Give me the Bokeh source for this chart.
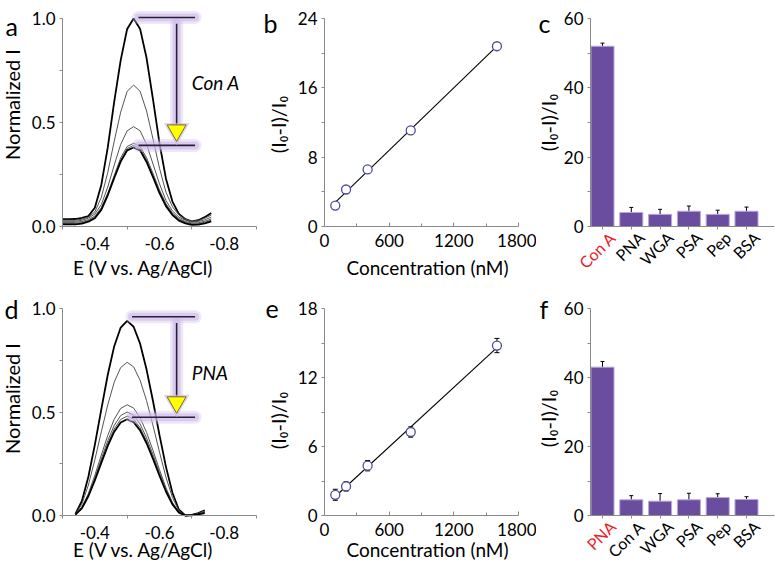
import numpy as np
from bokeh.plotting import figure
from bokeh.models import (Range1d, FixedTicker, PrintfTickFormatter, LinearAxis, Label,
                          LabelSet, ColumnDataSource, Whisker, TeeHead)
from bokeh.layouts import row, column
from bokeh.embed import file_html
from bokeh.resources import INLINE
from bokeh.core.properties import value

FONT = "Lato"

# ---------------- data ----------------
# panel a: DPV curves, Con A
E_a = [-0.30, -0.32, -0.34, -0.36, -0.38, -0.40, -0.42, -0.44, -0.46, -0.48, -0.50, -0.52,
       -0.54, -0.56, -0.58, -0.60, -0.62, -0.64, -0.66, -0.68, -0.70, -0.72, -0.74, -0.76]
a_c1 = [0.035, 0.035, 0.036, 0.042, 0.05, 0.09, 0.20, 0.38, 0.60, 0.80, 0.95, 1.00,
        0.95, 0.81, 0.61, 0.40, 0.23, 0.12, 0.06, 0.035, 0.025, 0.03, 0.045, 0.065]
a_c2 = [0.03, 0.03, 0.03, 0.035, 0.045, 0.07, 0.14, 0.26, 0.41, 0.55, 0.65, 0.68,
        0.65, 0.555, 0.42, 0.28, 0.165, 0.095, 0.055, 0.035, 0.025, 0.028, 0.04, 0.055]
a_c3 = [0.025, 0.025, 0.025, 0.03, 0.04, 0.06, 0.105, 0.19, 0.295, 0.395, 0.46, 0.48,
        0.46, 0.395, 0.30, 0.205, 0.125, 0.075, 0.045, 0.03, 0.022, 0.024, 0.032, 0.045]
a_c4 = [0.02, 0.02, 0.02, 0.024, 0.033, 0.05, 0.09, 0.16, 0.245, 0.33, 0.385, 0.40,
        0.385, 0.33, 0.255, 0.175, 0.11, 0.065, 0.038, 0.024, 0.017, 0.018, 0.025, 0.036]
a_c5 = [0.015, 0.015, 0.015, 0.019, 0.028, 0.045, 0.085, 0.155, 0.24, 0.32, 0.375, 0.39,
        0.375, 0.32, 0.245, 0.168, 0.104, 0.06, 0.033, 0.02, 0.013, 0.014, 0.02, 0.03]
a_c6 = [0.01, 0.01, 0.01, 0.014, 0.023, 0.04, 0.08, 0.15, 0.233, 0.312, 0.366, 0.38,
        0.366, 0.31, 0.237, 0.16, 0.098, 0.055, 0.028, 0.015, 0.008, 0.009, 0.015, 0.025]

# panel d: DPV curves, PNA
E_d = [-0.34, -0.36, -0.38, -0.40, -0.42, -0.44, -0.46, -0.48, -0.50, -0.52, -0.54,
       -0.56, -0.58, -0.60, -0.62, -0.64, -0.66, -0.68, -0.70, -0.72, -0.74]
d_c1 = [0.008, 0.07, 0.187, 0.341, 0.513, 0.68, 0.818, 0.908, 0.94, 0.912, 0.83,
        0.705, 0.552, 0.388, 0.235, 0.11, 0.028, 0.0, 0.003, 0.012, 0.025]
d_c2 = [0.006, 0.055, 0.147, 0.269, 0.404, 0.535, 0.644, 0.715, 0.74, 0.718, 0.653,
        0.555, 0.434, 0.306, 0.185, 0.087, 0.022, 0.0, 0.002, 0.01, 0.022]
d_c3 = [0.004, 0.04, 0.106, 0.194, 0.292, 0.387, 0.465, 0.517, 0.535, 0.519, 0.472,
        0.401, 0.314, 0.221, 0.134, 0.063, 0.016, 0.0, 0.002, 0.009, 0.019]
d_c4 = [0.004, 0.038, 0.10, 0.182, 0.273, 0.362, 0.435, 0.483, 0.50, 0.485, 0.442,
        0.375, 0.294, 0.207, 0.125, 0.059, 0.015, 0.0, 0.002, 0.008, 0.017]
d_c5 = [0.004, 0.036, 0.096, 0.174, 0.262, 0.347, 0.418, 0.464, 0.48, 0.466, 0.424,
        0.36, 0.282, 0.198, 0.12, 0.056, 0.014, 0.0, 0.001, 0.007, 0.015]
d_c6 = [0.004, 0.035, 0.093, 0.169, 0.254, 0.336, 0.405, 0.449, 0.465, 0.451, 0.411,
        0.349, 0.273, 0.192, 0.116, 0.054, 0.014, 0.0, 0.001, 0.006, 0.012]

# panels b / e: calibration
conc = [100, 200, 400, 800, 1600]
b_val = [2.42, 4.27, 6.58, 11.08, 20.8]
b_err = [0.3, 0.3, 0.3, 0.4, 0.3]
e_val = [1.8, 2.53, 4.33, 7.26, 14.78]
e_err = [0.48, 0.4, 0.45, 0.45, 0.62]

# panels c / f: selectivity
c_cats = ["Con A", "PNA", "WGA", "PSA", "Pep", "BSA"]
c_val = [52.0, 4.05, 3.5, 4.4, 3.5, 4.4]
c_err = [0.9, 1.45, 1.45, 1.5, 1.2, 1.2]
f_cats = ["PNA", "Con A", "WGA", "PSA", "Pep", "BSA"]
f_val = [43.0, 4.55, 4.16, 4.55, 5.2, 4.65]
f_err = [1.65, 1.2, 2.2, 1.9, 1.1, 0.8]

# ---------------- style constants ----------------
AXC = "#8a8a8a"
PURPLE = "#6a4d9f"
GLOW = "#cdbbe8"
RED = "#e8202a"
YLAB = "(I\u2080-I)/I\u2080"
TICK_FS = "17px"
CAT_FS = "16px"
XT_FS = "19px"
YT_FS = "20px"
LET_FS = "25px"

# ---------------- geometry (px, picture coordinates) ----------------
COLS = [(0, 262), (262, 274), (536, 240)]      # canvas (left, width)
ROWS = [(0, 290), (290, 271)]                  # canvas (top, height)
XBOX = [(62, 256), (324, 518), (590, 774)]     # plotting box left/right per column
YBOX = [(226, 18), (515, 308)]                 # (y of zero, y of top value) per row


def lin(d0, p0, d1, p1):
    s = (d1 - d0) / (p1 - p0)
    return lambda px: d0 + (px - p0) * s


class Panel:
    """A figure whose frame is the whole canvas; axes are pinned inside it."""

    def __init__(self, ci, ri, xmap, ymap):
        (L, W), (T, H) = COLS[ci], ROWS[ri]
        self.xm, self.ym = xmap, ymap
        self.p = figure(width=W, height=H, x_range=Range1d(xmap(L), xmap(L + W)),
                        y_range=Range1d(ymap(T + H), ymap(T)), min_border=0,
                        x_axis_location=None, y_axis_location=None,
                        output_backend="svg", toolbar_location=None, tools="")
        self.p.outline_line_color = None
        self.p.grid.visible = False

    def text(self, px, py, txt, size, angle=0.0, align="center", baseline="middle",
             color="black", style="normal"):
        self.p.add_layout(Label(x=self.xm(px), y=self.ym(py), text=txt, angle=angle,
                                text_align=align, text_baseline=baseline,
                                text_color=color, text_font=FONT, text_font_size=size,
                                text_font_style=style))

    def axes(self, xloc, xb, xticks, xminor, yloc, yb, yticks, yminor,
             xticks_in=False, xfmt=None, yfmt=None):
        xa = LinearAxis(fixed_location=xloc, bounds=xb,
                        ticker=FixedTicker(ticks=xticks, minor_ticks=xminor))
        ya = LinearAxis(fixed_location=yloc, bounds=yb,
                        ticker=FixedTicker(ticks=yticks, minor_ticks=yminor))
        for ax in (xa, ya):
            ax.axis_line_color = AXC
            ax.major_tick_line_color = AXC
            ax.minor_tick_line_color = AXC
            ax.major_tick_out = 3
            ax.major_tick_in = 0
            ax.minor_tick_out = 3
            ax.minor_tick_in = 0
            ax.major_label_standoff = 4
            ax.major_label_text_font = FONT
            ax.major_label_text_font_size = TICK_FS
            ax.major_label_text_color = "black"
        if xticks_in:
            xa.major_tick_out, xa.major_tick_in = 0, 4
            xa.minor_tick_out, xa.minor_tick_in = 0, 3
            xa.major_label_standoff = 7
        if xfmt:
            xa.formatter = xfmt
        if yfmt:
            ya.formatter = yfmt
        self.p.add_layout(xa, "below")
        self.p.add_layout(ya, "left")
        return xa, ya


def dpv_panel(ri, E, curves, widths, colors, label_txt, top_off, letter_txt,
              letter_x, letter_base, ytitle_y, xtitle_y):
    z, t = YBOX[ri]
    P = Panel(0, ri, lin(-0.3, XBOX[0][0], -0.9, XBOX[0][1]), lin(0.0, z, 1.0, t))
    p = P.p
    for c, w, col in zip(curves, widths, colors):
        p.line(E, c, line_width=w, line_color=col)
    y_top = max(curves[0]) + top_off
    y_bot = max(curves[-1]) + 0.01
    e_peak = E[int(np.argmax(curves[0]))]
    x0 = e_peak - 0.015
    x1 = -0.71
    ax_x = -0.653
    for lw, al in [(13, 0.35), (8, 0.6)]:
        p.segment([x0, x0, ax_x], [y_top, y_bot, y_top - 0.03], [x1, x1, ax_x],
                  [y_top, y_bot, y_bot + 0.1], line_width=lw, line_color=GLOW,
                  line_alpha=al, line_cap="round")
    p.segment([x0, x0, ax_x], [y_top, y_bot, y_top - 0.03], [x1, x1, ax_x],
              [y_top, y_bot, y_bot + 0.1], line_width=1.6, line_color="#2a1e3a")
    p.scatter([ax_x], [y_bot + 0.072], marker="inverted_triangle", size=26,
              fill_color=GLOW, fill_alpha=0.6, line_color=None)
    p.scatter([ax_x], [y_bot + 0.072], marker="inverted_triangle", size=19,
              fill_color="#ffff00", line_color="#7a6a20", line_width=1)
    p.text([-0.70], [0.69], text=[label_txt], text_font=value(FONT),
           text_font_style="italic", text_font_size="19px", text_baseline="middle",
           text_align="left", text_color="black")
    xa, ya = P.axes(0.0, (-0.9, -0.3), [-0.4, -0.6, -0.8], [-0.3, -0.5, -0.7, -0.9],
                    -0.3, (0.0, 1.0), [0.0, 0.5, 1.0], [0.25, 0.75],
                    xfmt=PrintfTickFormatter(format="%.1f"),
                    yfmt=PrintfTickFormatter(format="%.1f"))
    xa.major_tick_out = 0
    xa.major_label_standoff = 7
    P.text(143, xtitle_y, "E (V vs. Ag/AgCl)", XT_FS)
    P.text(11, ytitle_y, "Normalized I", YT_FS, angle=np.pi / 2)
    P.text(letter_x, letter_base, letter_txt, LET_FS, align="left", baseline="alphabetic")
    return p


def calib_panel(ri, yv, ye, ymax, ystep, letter_txt, letter_x, letter_base, ytitle_y,
                xtitle_y):
    z, t = YBOX[ri]
    P = Panel(1, ri, lin(0, XBOX[1][0], 1800, XBOX[1][1]), lin(0, z, ymax, t))
    p = P.p
    k, b0 = np.polyfit(conc, yv, 1)
    xs = [conc[0], conc[-1]]
    p.line(xs, [k * x + b0 for x in xs], line_color="black", line_width=1.1)
    src = ColumnDataSource(dict(x=conc, y=yv,
                                up=[v + e for v, e in zip(yv, ye)],
                                lo=[v - e for v, e in zip(yv, ye)]))
    p.add_layout(Whisker(source=src, base="x", upper="up", lower="lo",
                         line_color="black", line_width=1,
                         upper_head=TeeHead(size=5, line_color="black", line_width=1),
                         lower_head=TeeHead(size=5, line_color="black", line_width=1)))
    p.scatter("x", "y", source=src, marker="circle", size=9, fill_color="white",
              line_color="#4b4aa0", line_width=1.3)
    P.axes(0, (0, 1800), [0, 600, 1200, 1800], [300, 900, 1500],
           0, (0, ymax), [0, ystep, 2 * ystep, 3 * ystep],
           [ystep / 2, 1.5 * ystep, 2.5 * ystep], xticks_in=True)
    P.text(427, xtitle_y, "Concentration (nM)", XT_FS)
    P.text(277, ytitle_y, YLAB, YT_FS, angle=np.pi / 2)
    P.text(letter_x, letter_base, letter_txt, LET_FS, align="left", baseline="alphabetic")
    return p


def bar_panel(ri, cats, vals, errs, letter_txt, letter_x, letter_base, ytitle_y):
    z, t = YBOX[ri]
    P = Panel(2, ri, lin(0, 602, 5, 746), lin(0, z, 60, t))
    p = P.p
    idx = list(range(len(cats)))
    src = ColumnDataSource(dict(x=idx, top=vals,
                                up=[v + e for v, e in zip(vals, errs)],
                                lo=[v - e for v, e in zip(vals, errs)]))
    p.vbar(x="x", top="top", width=0.8, bottom=0, source=src, fill_color=PURPLE,
           line_color="#b9a9dc", line_width=1)
    p.add_layout(Whisker(source=src, base="x", upper="up", lower="lo",
                         line_color="black", line_width=1,
                         upper_head=TeeHead(size=4, line_color="black", line_width=1),
                         lower_head=TeeHead(size=4, line_color="black", line_width=1)))
    x_left = P.xm(XBOX[2][0])
    x_right = P.xm(XBOX[2][1])
    xa, ya = P.axes(0, (x_left, x_right), idx, [], x_left, (0, 60), [0, 20, 40, 60],
                    [10, 30, 50])
    xa.major_label_overrides = {i: "" for i in idx}
    lab = ColumnDataSource(dict(x=idx, y=[P.ym(z + 8)] * len(idx), t=cats,
                                col=[RED] + ["black"] * (len(cats) - 1)))
    p.add_layout(LabelSet(x="x", y="y", text="t", source=lab, angle=np.pi / 4,
                          text_align="right", text_baseline="middle", x_offset=10,
                          text_color="col", text_font=value(FONT),
                          text_font_size=CAT_FS))
    P.text(547, ytitle_y, YLAB, YT_FS, angle=np.pi / 2)
    P.text(letter_x, letter_base, letter_txt, LET_FS, align="left", baseline="alphabetic")
    return p


# ---------------- build ----------------
pa = dpv_panel(0, E_a, [a_c1, a_c2, a_c3, a_c4, a_c5, a_c6],
               [1.8, 1.0, 1.0, 1.0, 1.0, 1.8],
               ["black", "#555555", "#555555", "#555555", "#555555", "black"],
               "Con A", 0.005, "a", 5, 25, 104, 267)
pb = calib_panel(0, b_val, b_err, 24, 8, "b", 263, 22, 124, 267)
pc = bar_panel(0, c_cats, c_val, c_err, "c", 538, 22, 122)

pd = dpv_panel(1, E_d, [d_c1, d_c2, d_c3, d_c4, d_c5, d_c6],
               [1.8, 1.0, 1.0, 1.0, 1.0, 1.8],
               ["black", "#555555", "#555555", "#555555", "#555555", "black"],
               "PNA", 0.02, "d", 4, 308, 398, 549)
pe = calib_panel(1, e_val, e_err, 18, 6, "e", 265, 308, 420, 549)
pf = bar_panel(1, f_cats, f_val, f_err, "f", 539, 308, 418)

layout = column(row(pa, pb, pc), row(pd, pe, pf))

with open("out.html", "w") as fh:
    fh.write(file_html(layout, INLINE))
